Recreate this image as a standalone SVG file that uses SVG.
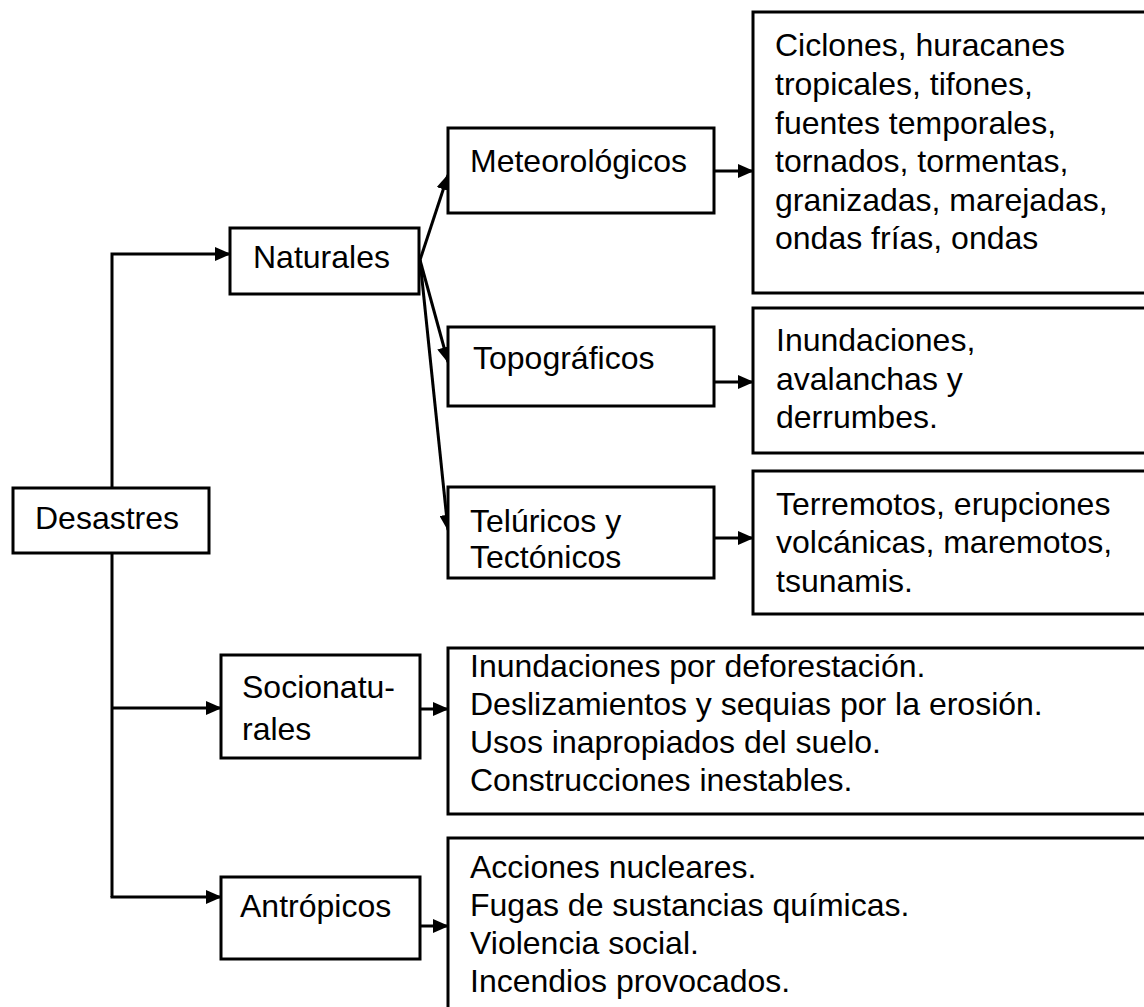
<svg xmlns="http://www.w3.org/2000/svg" width="1144" height="1007" viewBox="0 0 1144 1007">
<defs>
<marker id="ah" markerUnits="userSpaceOnUse" markerWidth="16" markerHeight="14" refX="15" refY="7" orient="auto">
<path d="M0,0 L16,7 L0,14 z" fill="#000"/>
</marker>
<style>
.box{fill:#fff;stroke:#000;stroke-width:3}
.t{font-family:"Liberation Sans",Arial,sans-serif;font-size:32px;fill:#000}
.c{fill:none;stroke:#000;stroke-width:3}
.a{marker-end:url(#ah)}
</style>
</defs>
<rect width="1144" height="1007" fill="#fff"/>
<g id="connectors">
<path class="c a" d="M112,488 V254 H230"/>
<path class="c" d="M112,553 V897"/>
<path class="c a" d="M112,708 H221"/>
<path class="c a" d="M112,896 V897 H221"/>
<path class="c a" d="M420,260 L448,175"/>
<path class="c a" d="M420,260 L448,362"/>
<path class="c a" d="M420,260 L448,530"/>
<path class="c a" d="M714,171 H753"/>
<path class="c a" d="M714,382 H753"/>
<path class="c a" d="M714,538 H753"/>
<path class="c a" d="M420,709 H448"/>
<path class="c a" d="M420,926 H448"/>
</g>
<g id="desastres"><rect class="box" x="13" y="488" width="196" height="65"/><text class="t" x="35" y="529">Desastres</text></g>
<g id="naturales"><rect class="box" x="230" y="228" width="189" height="66"/><text class="t" x="253" y="268">Naturales</text></g>
<g id="meteorologicos"><rect class="box" x="448" y="128" width="266" height="85"/><text class="t" x="470" y="172">Meteorológicos</text></g>
<g id="topograficos"><rect class="box" x="448" y="327" width="266" height="79"/><text class="t" x="473" y="369">Topográficos</text></g>
<g id="teluricos"><rect class="box" x="448" y="487" width="266" height="91"/><text class="t" x="470" y="532">Telúricos y</text><text class="t" x="470" y="568">Tectónicos</text></g>
<g id="socionaturales"><rect class="box" x="221" y="655" width="199" height="103"/><text class="t" x="242" y="698">Socionatu-</text><text class="t" x="242" y="740">rales</text></g>
<g id="antropicos"><rect class="box" x="221" y="877" width="199" height="82"/><text class="t" x="240" y="917">Antrópicos</text></g>
<g id="met-detalle"><rect class="box" x="753" y="12" width="400" height="281"/>
<text class="t" x="775" y="56">Ciclones, huracanes</text>
<text class="t" x="775" y="95">tropicales, tifones,</text>
<text class="t" x="775" y="134">fuentes temporales,</text>
<text class="t" x="775" y="172">tornados, tormentas,</text>
<text class="t" x="775" y="211">granizadas, marejadas,</text>
<text class="t" x="775" y="249">ondas frías, ondas</text></g>
<g id="topo-detalle"><rect class="box" x="753" y="308" width="400" height="145"/>
<text class="t" x="776" y="351">Inundaciones,</text>
<text class="t" x="776" y="390">avalanchas y</text>
<text class="t" x="776" y="428">derrumbes.</text></g>
<g id="tel-detalle"><rect class="box" x="753" y="471" width="400" height="143"/>
<text class="t" x="776" y="515">Terremotos, erupciones</text>
<text class="t" x="776" y="553">volcánicas, maremotos,</text>
<text class="t" x="776" y="592">tsunamis.</text></g>
<g id="socio-detalle"><rect class="box" x="448" y="648" width="705" height="166"/>
<text class="t" x="470" y="677">Inundaciones por deforestación.</text>
<text class="t" x="470" y="715">Deslizamientos y sequias por la erosión.</text>
<text class="t" x="470" y="753">Usos inapropiados del suelo.</text>
<text class="t" x="470" y="791">Construcciones inestables.</text></g>
<g id="antro-detalle"><rect class="box" x="448" y="838" width="705" height="190"/>
<text class="t" x="470" y="878">Acciones nucleares.</text>
<text class="t" x="470" y="916">Fugas de sustancias químicas.</text>
<text class="t" x="470" y="954">Violencia social.</text>
<text class="t" x="470" y="992">Incendios provocados.</text></g>
</svg>
